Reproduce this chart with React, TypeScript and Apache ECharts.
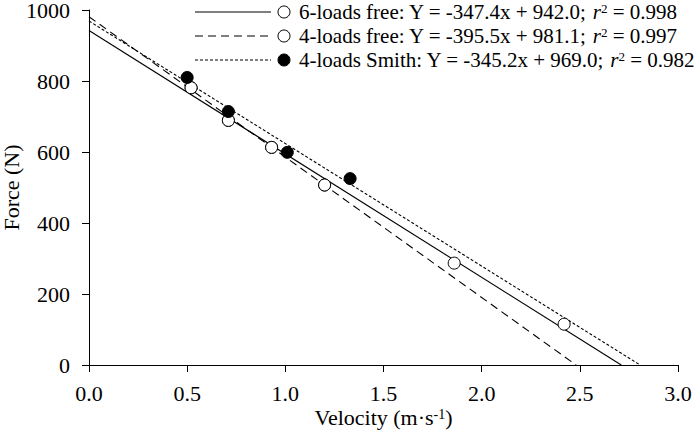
import React, { useEffect, useRef } from "react";
import * as echarts from "echarts";

// Open circles: free-weight loads (all 6), first 4 used for the 4-loads fit
const freeVelocity = [0.52, 0.71, 0.93, 1.2, 1.86, 2.42];
const freeForce = [781, 689, 613, 507, 287, 115];
const free4Velocity = [0.52, 0.71, 0.93, 1.2];
const free4Force = [781, 689, 613, 507];
// Filled circles: Smith machine loads
const smithVelocity = [0.5, 0.71, 1.01, 1.33];
const smithForce = [810, 714, 599, 525];

// Regression lines (endpoints at v = 0 and at F = 0)
const line6Free = [[0, 942.0], [2.711, 0]];
const line4Free = [[0, 981.1], [2.481, 0]];
const line4Smith = [[0, 969.0], [2.807, 0]];

const legendNames = ["6-loads free", "4-loads free", "4-loads Smith"];
const legendEquations = ["Y = -347.4x + 942.0", "Y = -395.5x + 981.1", "Y = -345.2x + 969.0"];
const legendR2 = ["0.998", "0.997", "0.982"];

const xTicks = [0, 0.5, 1, 1.5, 2, 2.5, 3];
const yTicks = [0, 200, 400, 600, 800, 1000];

const FONT = "Liberation Serif";

export default function App() {
  const ref = useRef<HTMLDivElement>(null);
  useEffect(() => {
    if (!ref.current) return;
    const chart = echarts.init(ref.current, null, { renderer: "svg" });
    const lineTypes: any[] = ["solid", [8, 5], [3, 2]];
    const legendY = [12, 36, 60];
    const legendGraphics: any[] = [];
    legendNames.forEach((n, i) => {
      legendGraphics.push({
        type: "line",
        shape: { x1: 195, y1: legendY[i], x2: 271, y2: legendY[i] },
        style: { stroke: "#000", lineWidth: 1.1, lineDash: lineTypes[i] === "solid" ? null : lineTypes[i] },
      });
      legendGraphics.push({
        type: "circle",
        shape: { cx: 284, cy: legendY[i], r: 6 },
        style: { fill: i === 2 ? "#000" : "#fff", stroke: "#000", lineWidth: 1 },
      });
      legendGraphics.push({
        type: "text",
        x: 299,
        y: legendY[i],
        style: {
          text: `${n}: ${legendEquations[i]}; {i|r}{sup|2} = ${legendR2[i]}`,
          fontFamily: FONT,
          fontSize: 21,
          fill: "#000",
          verticalAlign: "middle",
          rich: {
            i: { fontStyle: "italic", fontFamily: FONT, fontSize: 21 },
            sup: { fontFamily: FONT, fontSize: 13, verticalAlign: "top", padding: [0, 0, 8, 0] },
          },
        },
      });
    });

    const pair = (xs: number[], ys: number[]) => xs.map((x, i) => [x, ys[i]]);

    chart.setOption({
      animation: false,
      textStyle: { fontFamily: FONT, color: "#000" },
      grid: { left: 89, right: 16, top: 10, bottom: 66, containLabel: false, outerBoundsMode: "none" },
      xAxis: {
        type: "value",
        min: xTicks[0],
        max: xTicks[xTicks.length - 1],
        interval: 0.5,
        name: "Velocity (m·s{sup|-1})",
        nameLocation: "middle",
        nameGap: 42,
        nameMoveOverlap: false,
        nameTextStyle: {
          fontFamily: FONT,
          fontSize: 22,
          color: "#000",
          lineHeight: 20,
          rich: {
            sup: { fontFamily: FONT, fontSize: 14, color: "#000", verticalAlign: "top", padding: [0, 0, 8, 0] },
          },
        },
        axisLine: { lineStyle: { color: "#000", width: 1 } },
        axisTick: { inside: false, length: 7, lineStyle: { color: "#000" } },
        axisLabel: {
          fontFamily: FONT,
          fontSize: 22,
          lineHeight: 18,
          color: "#000",
          margin: 19,
          formatter: (v: number) => v.toFixed(1),
        },
        splitLine: { show: false },
      },
      yAxis: {
        type: "value",
        min: yTicks[0],
        max: yTicks[yTicks.length - 1],
        interval: 200,
        name: "Force (N)",
        nameLocation: "middle",
        nameGap: 67,
        nameMoveOverlap: false,
        nameRotate: 90,
        nameTextStyle: { fontFamily: FONT, fontSize: 22, color: "#000" },
        axisLine: { show: true, lineStyle: { color: "#000", width: 1 } },
        axisTick: { show: true, inside: false, length: 7, lineStyle: { color: "#000" } },
        axisLabel: {
          fontFamily: FONT,
          fontSize: 22,
          lineHeight: 16,
          color: "#000",
          margin: 19,
          formatter: (v: number) => String(v),
        },
        splitLine: { show: false },
      },
      series: [
        {
          type: "line",
          data: line6Free,
          symbol: "none",
          lineStyle: { color: "#000", width: 1.1, type: "solid" },
          z: 2,
        },
        {
          type: "line",
          data: line4Free,
          symbol: "none",
          lineStyle: { color: "#000", width: 1.1, type: [8, 5] },
          z: 2,
        },
        {
          type: "line",
          data: line4Smith,
          symbol: "none",
          lineStyle: { color: "#000", width: 1.1, type: [3, 2] },
          z: 2,
        },
        {
          type: "scatter",
          data: pair(free4Velocity, free4Force),
          symbol: "circle",
          symbolSize: 12,
          itemStyle: { color: "#fff", borderColor: "#000", borderWidth: 1, opacity: 1 },
          z: 3,
        },
        {
          type: "scatter",
          data: pair(freeVelocity, freeForce),
          symbol: "circle",
          symbolSize: 12,
          itemStyle: { color: "#fff", borderColor: "#000", borderWidth: 1, opacity: 1 },
          z: 4,
        },
        {
          type: "scatter",
          data: pair(smithVelocity, smithForce),
          symbol: "circle",
          symbolSize: 12,
          itemStyle: { color: "#000", borderColor: "#000", borderWidth: 1, opacity: 1 },
          z: 4,
        },
      ],
      graphic: legendGraphics,
    });
    return () => chart.dispose();
  }, []);
  return <div ref={ref} style={{ width: 694, height: 431, position: "absolute", left: 0, top: 0, background: "#fff" }} />;
}
